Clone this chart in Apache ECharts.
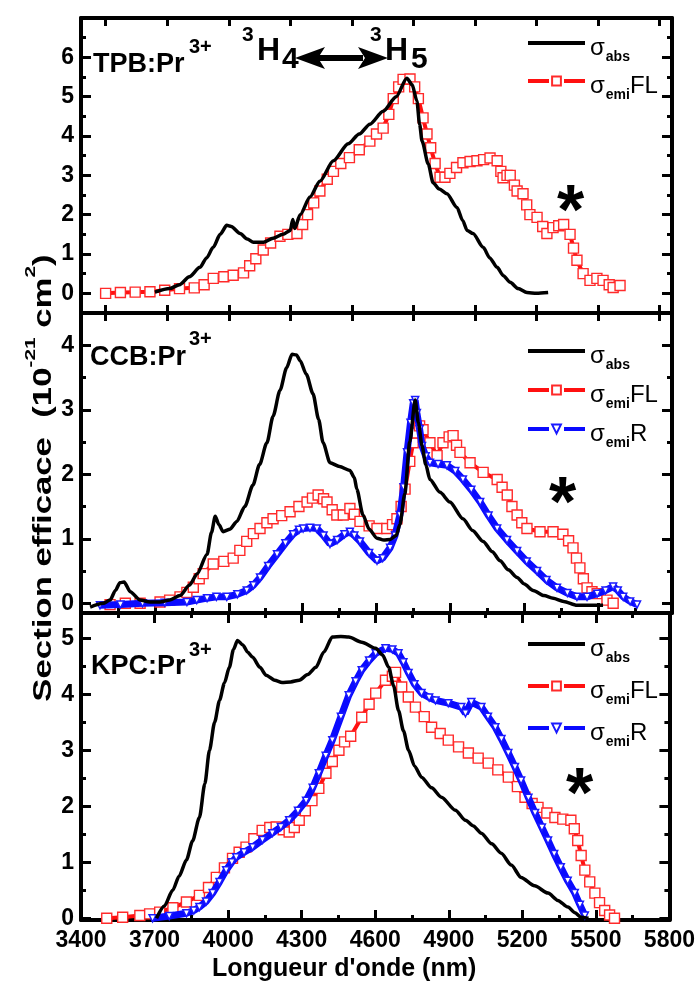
<!DOCTYPE html>
<html>
<head>
<meta charset="utf-8">
<script src="https://cdn.jsdelivr.net/npm/echarts@6/dist/echarts.min.js"></script>
<style>html,body{margin:0;padding:0;background:#fff;}#c{width:698px;height:985px;}</style>
</head>
<body>
<div id="c"></div>
<script>
// ---------- data (wavelength nm, cross-section 1e-21 cm2) ----------
const tpbAbs = [[3700,0.03],[3760,0.12],[3800,0.22],[3840,0.42],[3883,0.66],[3910,0.9],[3937,1.17],[3965,1.5],[3992,1.73],[4010,1.7],[4046,1.52],[4075,1.38],[4100,1.3],[4141,1.3],[4180,1.4],[4220,1.5],[4250,1.6],[4260,1.88],[4268,1.65],[4290,2.0],[4330,2.45],[4370,2.85],[4425,3.37],[4485,3.8],[4530,4.05],[4573,4.3],[4627,4.63],[4680,5.0],[4723,5.47],[4745,5.3],[4764,4.89],[4775,4.3],[4785,3.87],[4810,3.29],[4830,2.81],[4855,2.65],[4886,2.53],[4927,2.18],[4950,1.85],[4968,1.6],[4992,1.52],[5033,1.17],[5060,0.9],[5090,0.66],[5115,0.45],[5143,0.28],[5175,0.12],[5211,0.02],[5250,0.0],[5297,0.02]];
const tpbFL = [[3500,0.0],[3560,0.02],[3620,0.03],[3680,0.04],[3740,0.08],[3800,0.12],[3860,0.14],[3900,0.22],[3937,0.38],[3980,0.42],[4018,0.46],[4060,0.52],[4085,0.7],[4110,0.88],[4140,1.1],[4170,1.28],[4208,1.45],[4240,1.5],[4277,1.52],[4300,1.75],[4320,2.0],[4345,2.3],[4370,2.6],[4400,2.9],[4425,3.1],[4455,3.3],[4490,3.45],[4530,3.65],[4573,3.87],[4600,4.05],[4627,4.2],[4650,4.55],[4668,4.95],[4690,5.25],[4708,5.44],[4736,5.45],[4755,5.25],[4770,4.95],[4789,4.46],[4805,4.05],[4820,3.7],[4838,3.3],[4858,2.95],[4878,2.95],[4898,3.05],[4925,3.2],[4951,3.32],[4980,3.35],[5008,3.37],[5035,3.4],[5061,3.44],[5090,3.37],[5105,3.1],[5114,2.94],[5130,3.0],[5143,3.0],[5160,2.75],[5171,2.6],[5195,2.53],[5210,2.25],[5223,2.0],[5252,1.93],[5275,1.7],[5292,1.52],[5317,1.67],[5340,1.72],[5360,1.75],[5386,1.5],[5400,1.15],[5414,0.84],[5439,0.5],[5467,0.33],[5495,0.38],[5520,0.33],[5545,0.22],[5561,0.15],[5589,0.2]];

const ccbAbs = [[3437,-0.06],[3490,0.0],[3518,0.05],[3540,0.2],[3558,0.32],[3575,0.33],[3600,0.18],[3640,0.05],[3680,0.02],[3721,0.02],[3760,0.05],[3802,0.12],[3840,0.28],[3872,0.46],[3912,0.76],[3930,1.1],[3945,1.35],[3960,1.22],[3977,1.11],[4005,1.15],[4033,1.27],[4065,1.5],[4098,1.83],[4125,2.15],[4155,2.49],[4180,2.9],[4208,3.3],[4235,3.65],[4257,3.86],[4275,3.85],[4290,3.76],[4315,3.55],[4342,3.25],[4365,2.85],[4383,2.49],[4411,2.18],[4450,2.12],[4492,2.06],[4510,1.95],[4520,1.77],[4545,1.37],[4570,1.15],[4602,1.01],[4630,0.98],[4655,0.99],[4680,1.05],[4695,1.22],[4715,1.7],[4735,2.5],[4757,3.15],[4770,2.8],[4785,2.44],[4800,2.15],[4817,1.92],[4858,1.72],[4898,1.57],[4951,1.31],[4990,1.13],[5033,0.96],[5070,0.8],[5102,0.66],[5135,0.52],[5171,0.4],[5200,0.3],[5236,0.2],[5280,0.12],[5317,0.08],[5360,0.03],[5414,-0.03],[5520,-0.03]];
const ccbFL = [[3518,-0.02],[3580,0.0],[3640,0.0],[3721,0.02],[3760,0.05],[3802,0.1],[3830,0.17],[3856,0.25],[3880,0.38],[3896,0.46],[3937,0.61],[3980,0.65],[4018,0.7],[4045,0.82],[4073,0.96],[4100,1.08],[4127,1.16],[4155,1.25],[4180,1.31],[4215,1.36],[4249,1.42],[4285,1.5],[4318,1.57],[4340,1.63],[4363,1.68],[4385,1.62],[4399,1.57],[4420,1.45],[4439,1.37],[4465,1.37],[4492,1.47],[4510,1.38],[4533,1.27],[4570,1.2],[4602,1.16],[4642,1.16],[4665,1.22],[4683,1.31],[4700,1.5],[4716,1.77],[4735,2.2],[4749,2.49],[4764,2.64],[4775,2.75],[4789,2.69],[4817,2.49],[4846,2.29],[4870,2.49],[4895,2.58],[4911,2.6],[4925,2.45],[4939,2.34],[4980,2.18],[5033,2.03],[5090,1.92],[5110,1.8],[5131,1.68],[5150,1.5],[5171,1.37],[5190,1.25],[5211,1.16],[5264,1.11],[5317,1.11],[5357,1.07],[5380,0.97],[5398,0.86],[5412,0.7],[5426,0.55],[5440,0.38],[5455,0.24],[5475,0.18],[5496,0.15],[5536,0.05],[5561,0.0]];
const ccbR = [[3477,-0.03],[3560,-0.02],[3650,0.0],[3740,0.01],[3830,0.02],[3870,0.05],[3912,0.08],[3950,0.1],[3992,0.1],[4035,0.14],[4073,0.2],[4100,0.28],[4127,0.4],[4160,0.58],[4196,0.76],[4230,0.93],[4261,1.07],[4285,1.14],[4302,1.16],[4330,1.17],[4358,1.16],[4385,1.05],[4411,0.92],[4440,0.98],[4470,1.07],[4492,1.11],[4510,1.05],[4533,0.96],[4570,0.78],[4602,0.66],[4625,0.7],[4655,0.86],[4675,1.05],[4695,1.37],[4710,1.8],[4724,2.34],[4738,2.8],[4749,3.1],[4757,3.15],[4764,2.95],[4775,2.7],[4785,2.44],[4800,2.28],[4817,2.18],[4850,2.16],[4886,2.14],[4920,2.05],[4951,1.92],[4985,1.76],[5021,1.57],[5055,1.36],[5090,1.16],[5130,0.98],[5171,0.81],[5210,0.65],[5252,0.5],[5290,0.36],[5333,0.24],[5375,0.16],[5414,0.1],[5455,0.1],[5496,0.15],[5530,0.2],[5561,0.26],[5580,0.2],[5602,0.1],[5630,0.03],[5658,-0.02]];

const kpcAbs = [[3708,0.0],[3740,0.22],[3774,0.5],[3800,0.75],[3830,1.04],[3855,1.38],[3883,1.8],[3905,2.4],[3924,3.0],[3945,3.5],[3965,3.89],[3985,4.2],[4005,4.48],[4022,4.8],[4038,4.96],[4060,4.88],[4080,4.75],[4100,4.66],[4130,4.48],[4155,4.34],[4190,4.25],[4220,4.21],[4255,4.22],[4290,4.25],[4325,4.35],[4358,4.48],[4390,4.75],[4425,5.02],[4460,5.03],[4492,5.02],[4545,4.93],[4602,4.82],[4630,4.7],[4655,4.48],[4675,4.15],[4695,3.71],[4715,3.35],[4736,3.0],[4760,2.72],[4789,2.52],[4830,2.33],[4870,2.16],[4927,1.93],[4968,1.75],[5000,1.65],[5033,1.52],[5075,1.33],[5114,1.16],[5155,0.95],[5195,0.73],[5250,0.58],[5305,0.45],[5345,0.32],[5386,0.2],[5415,0.1],[5439,0.02],[5470,0.0]];
const kpcFL = [[3505,0.0],[3570,0.02],[3640,0.05],[3680,0.08],[3721,0.11],[3775,0.19],[3830,0.29],[3883,0.41],[3920,0.55],[3952,0.73],[3985,0.9],[4018,1.07],[4045,1.18],[4073,1.27],[4105,1.42],[4139,1.57],[4170,1.62],[4196,1.63],[4225,1.58],[4249,1.54],[4270,1.62],[4290,1.75],[4315,1.92],[4342,2.1],[4370,2.32],[4399,2.59],[4425,2.8],[4452,3.0],[4475,3.15],[4500,3.25],[4545,3.59],[4575,3.82],[4602,4.02],[4642,4.25],[4670,4.32],[4683,4.39],[4708,4.13],[4735,3.95],[4764,3.77],[4800,3.6],[4830,3.41],[4865,3.3],[4898,3.18],[4940,3.06],[4980,2.95],[5020,2.86],[5061,2.77],[5100,2.65],[5143,2.52],[5180,2.35],[5211,2.16],[5240,2.05],[5264,1.98],[5300,1.88],[5333,1.8],[5365,1.77],[5398,1.75],[5412,1.6],[5426,1.39],[5440,1.12],[5455,0.86],[5475,0.65],[5496,0.45],[5515,0.28],[5536,0.14],[5556,0.06],[5576,0.0]];
const kpcR = [[3692,0.0],[3760,0.04],[3830,0.09],[3860,0.14],[3883,0.2],[3910,0.3],[3937,0.45],[3965,0.65],[3992,0.86],[4015,1.0],[4033,1.09],[4065,1.18],[4100,1.27],[4140,1.4],[4180,1.52],[4215,1.63],[4249,1.75],[4285,1.92],[4318,2.1],[4345,2.33],[4370,2.59],[4398,2.9],[4425,3.18],[4460,3.6],[4492,3.98],[4520,4.23],[4545,4.43],[4575,4.6],[4602,4.73],[4642,4.82],[4670,4.8],[4695,4.73],[4715,4.57],[4736,4.38],[4760,4.18],[4789,4.02],[4820,3.94],[4846,3.89],[4898,3.84],[4951,3.77],[4968,3.66],[4992,3.86],[5033,3.77],[5060,3.6],[5090,3.41],[5115,3.2],[5143,2.95],[5170,2.7],[5195,2.46],[5225,2.15],[5252,1.88],[5280,1.62],[5305,1.39],[5330,1.15],[5357,0.91],[5385,0.67],[5414,0.45],[5435,0.24],[5455,0.05]];

// ---------- axis ticks / labels ----------
const xMin = 3400, xMax = 5800, xStep = 300;
const topPanelTicks = [3500,3750,4000,4250,4500,4750,5000,5250,5500,5750];
const yRanges = [[-0.5,7],[-0.15,4.5],[-0.03,5.45]];
const yLabels = [[0,1,2,3,4,5,6],[0,1,2,3,4],[0,1,2,3,4,5]];
const yMajor = [[0,1,2,3,4,5,6,7],[0,1,2,3,4],[0,1,2,3,4,5]];
const yMinor = [[-0.5,0.5,1.5,2.5,3.5,4.5,5.5,6.5],[0.5,1.5,2.5,3.5],[0.5,1.5,2.5,3.5,4.5]];

const FONT = 'Liberation Sans, Arial, sans-serif';
const BLACK = '#000';

const grids = [
  {left:81, top:18, width:591, height:295},
  {left:81, top:313, width:591, height:300},
  {left:81, top:613, width:591, height:307}
];

function xAx(gi, pos, mode, labels){
  const a = {type:'value', gridIndex:gi, position:pos, min:xMin, max:xMax,
    splitLine:{show:false},
    axisLine:{show:true, onZero:false, lineStyle:{color:BLACK, width:4}},
    axisLabel:{show:labels, color:BLACK, fontFamily:FONT, fontWeight:'bold', fontSize:23, margin:9, formatter:(v)=>String(v)},
  };
  if (mode === 'q'){
    a.axisTick = {show:true, inside:true, length:8, customValues:topPanelTicks, lineStyle:{color:BLACK, width:3}};
    a.axisLabel.show = false;
    a.minorTick = {show:false};
  } else {
    a.interval = xStep;
    a.axisTick = {show:true, inside:true, length:10, lineStyle:{color:BLACK, width:3}};
    a.minorTick = {show:true, splitNumber:2, length:5, lineStyle:{color:BLACK, width:3}};
  }
  return a;
}
function yAx(gi, pos, ticks, len, labels, line){
  return {type:'value', gridIndex:gi, position:pos, min:yRanges[gi][0], max:yRanges[gi][1],
    splitLine:{show:false},
    axisLine:{show:line, onZero:false, lineStyle:{color:BLACK, width:4}},
    axisTick:{show:true, inside:true, length:len, customValues:ticks, lineStyle:{color:BLACK, width:3}},
    axisLabel:{show:labels, customValues:yLabels[gi], color:BLACK, fontFamily:FONT, fontWeight:'bold', fontSize:23, margin:7},
  };
}

const xAxis = [
  xAx(0,'bottom','q',false), xAx(0,'top','q',false),
  xAx(1,'top','q',false), xAx(1,'bottom','n',false),
  xAx(2,'top','n',false), xAx(2,'bottom','n',true)
];
const yAxis = [];
for (let g=0; g<3; g++){
  yAxis.push(yAx(g,'left',yMajor[g],10,true,true));
  yAxis.push(yAx(g,'left',yMinor[g],5,false,false));
  yAxis.push(yAx(g,'right',yMajor[g],10,false,true));
  yAxis.push(yAx(g,'right',yMinor[g],5,false,false));
}
const xIdx = [0,3,5];

function absSeries(name, data, g){
  return {name, type:'line', xAxisIndex:xIdx[g], yAxisIndex:g*4, data, symbol:'none', smooth:0.25, smoothMonotone:'x',
    lineStyle:{color:BLACK, width:3.5}, itemStyle:{color:'rgba(0,0,0,0)'}, z:5, silent:true};
}
function flSeries(name, data, g){
  return {name, type:'line', xAxisIndex:xIdx[g], yAxisIndex:g*4, data, symbol:'rect', symbolSize:10, showAllSymbol:true,
    lineStyle:{color:'#ff1010', width:4}, itemStyle:{color:'#fff', borderColor:'#ff2a2a', borderWidth:1.4}, z:3, silent:true};
}
function rSeries(name, data, g){
  return {name, type:'line', xAxisIndex:xIdx[g], yAxisIndex:g*4, data, symbol:'triangle', symbolRotate:180, symbolSize:7, showAllSymbol:true,
    lineStyle:{color:'#0a0aff', width:7}, itemStyle:{color:'#fff', borderColor:'#1a1aff', borderWidth:1.5}, z:4, silent:true};
}

const series = [
  flSeries('TPB FL', tpbFL, 0), absSeries('TPB abs', tpbAbs, 0),
  flSeries('CCB FL', ccbFL, 1), rSeries('CCB R', ccbR, 1), absSeries('CCB abs', ccbAbs, 1),
  flSeries('KPC FL', kpcFL, 2), rSeries('KPC R', kpcR, 2), absSeries('KPC abs', kpcAbs, 2)
];

const legRich = {
  s:{fontFamily:FONT, fontSize:24, color:BLACK, lineHeight:24, padding:[5,0,0,0], verticalAlign:'top'},
  sub:{fontFamily:FONT, fontSize:14, fontWeight:'bold', color:BLACK, lineHeight:14, padding:[19,0,0,1], verticalAlign:'top'}
};
function legFmt(name){
  if (name.endsWith('abs')) return '{s|σ}{sub|abs}';
  if (name.endsWith('FL')) return '{s|σ}{sub|emi}{s|FL}';
  return '{s|σ}{sub|emi}{s|R}';
}
const dash = {type:[21,15]};
function leg(items, top, gap){
  return {orient:'vertical', left:526, top, itemWidth:57, itemHeight:11, itemGap:gap, data:items,
    formatter:legFmt, textStyle:{rich:legRich}, lineStyle:{width:4}, selectedMode:false, padding:0};
}
const legend = [
  leg([{name:'TPB abs'},{name:'TPB FL', lineStyle:dash}], 31, 5),
  leg([{name:'CCB abs'},{name:'CCB FL', lineStyle:dash},{name:'CCB R', lineStyle:dash}], 339, 6),
  leg([{name:'KPC abs'},{name:'KPC FL', lineStyle:dash},{name:'KPC R', lineStyle:dash}], 632, 9)
];

function txt(left, top, text, size, extra){
  return Object.assign({type:'text', left, top, style:{text, fontFamily:FONT, fontWeight:'bold', fontSize:size, fill:BLACK}}, extra||{});
}
const graphic = [
  txt(93, 51, 'TPB:Pr', 27), txt(189, 37, '3+', 20),
  txt(90, 344, 'CCB:Pr', 27), txt(189, 329, '3+', 20),
  txt(91, 653, 'KPC:Pr', 27), txt(189, 640, '3+', 20),
  txt(242, 25, '3', 21), txt(257, 35, 'H', 32), txt(282, 45, '4', 30),
  txt(370, 25, '3', 21), txt(385, 35, 'H', 32), txt(411, 45, '5', 30),
  {type:'rect', shape:{x:318, y:55, width:45, height:6}, style:{fill:BLACK}},
  {type:'polygon', shape:{points:[[295,58],[325,47],[318,58],[325,69]]}, style:{fill:BLACK}},
  {type:'polygon', shape:{points:[[388,58],[358,47],[365,58],[358,69]]}, style:{fill:BLACK}},
  txt(557, 180, '*', 70), txt(549, 472, '*', 70), txt(566, 763, '*', 70),
  {type:'text', left:212, top:957, style:{text:"Longueur d'onde (nm)", fontFamily:FONT, fontWeight:'bold', fontSize:25, fill:BLACK}},
  {type:'text', x:36, y:478, rotation:Math.PI/2, scaleX:1.39,
   style:{text:'{m|Section efficace  (10}{sup|-21}{m| cm}{sup|2}{m|)}', align:'center', verticalAlign:'middle',
     rich:{m:{fontFamily:FONT, fontWeight:'bold', fontSize:25, fill:BLACK, color:BLACK, lineHeight:25, padding:[8,0,0,0], verticalAlign:'top'},
           sup:{fontFamily:FONT, fontWeight:'bold', fontSize:15, fill:BLACK, color:BLACK, lineHeight:15, verticalAlign:'top'}}}}
];

const chart = echarts.init(document.getElementById('c'), null, {renderer:'canvas'});
chart.setOption({animation:false, backgroundColor:'#fff', grid:grids, xAxis, yAxis, series, legend, graphic});
</script>
</body>
</html>
